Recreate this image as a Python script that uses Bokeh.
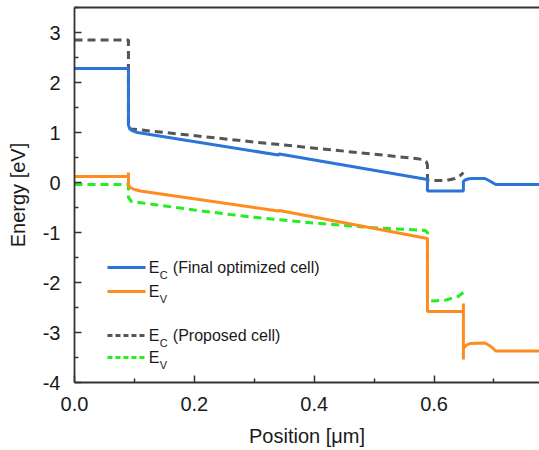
from bokeh.plotting import figure
from bokeh.models import (Range1d, FixedTicker, LinearAxis, Label, PrintfTickFormatter)
from bokeh.embed import file_html
from bokeh.resources import INLINE

# ---------------- data ----------------
ec_final_x = [0.0, 0.09, 0.09, 0.092, 0.096, 0.105, 0.34, 0.342, 0.589, 0.589,
              0.649, 0.649, 0.652, 0.658, 0.665, 0.685, 0.693, 0.703, 0.78]
ec_final_y = [2.28, 2.28, 1.15, 1.08, 1.04, 1.0, 0.55, 0.57, 0.06, -0.17,
              -0.17, 0.02, 0.05, 0.075, 0.08, 0.08, 0.03, -0.04, -0.04]

ev_final_x = [0.0, 0.09, 0.09, 0.09, 0.093, 0.1, 0.11, 0.34, 0.342, 0.589, 0.589,
              0.649, 0.649, 0.649, 0.649, 0.653, 0.66, 0.685, 0.695, 0.703, 0.78]
ev_final_y = [0.12, 0.12, 0.2, -0.05, -0.1, -0.14, -0.17, -0.57, -0.56, -1.12, -2.58,
              -2.58, -2.42, -3.54, -3.32, -3.26, -3.22, -3.21, -3.28, -3.37, -3.37]

ec_prop_x = [0.0, 0.09, 0.09, 0.095, 0.3, 0.57, 0.58, 0.587, 0.589, 0.589,
             0.6, 0.62, 0.635, 0.645, 0.649]
ec_prop_y = [2.85, 2.85, 1.08, 1.07, 0.81, 0.48, 0.46, 0.42, 0.35, 0.05,
             0.04, 0.04, 0.08, 0.15, 0.2]

ev_prop_x = [0.0, 0.09, 0.09, 0.095, 0.2, 0.294, 0.4, 0.494, 0.585, 0.589, 0.589,
             0.6, 0.62, 0.64, 0.649]
ev_prop_y = [-0.04, -0.04, -0.3, -0.38, -0.55, -0.69, -0.81, -0.9, -0.96, -1.0, -2.36,
             -2.37, -2.35, -2.28, -2.2]

x_major = [0.0, 0.2, 0.4, 0.6]
x_minor = [0.1, 0.3, 0.5, 0.7]
y_major = [-4, -3, -2, -1, 0, 1, 2, 3]
y_minor = [-3.5, -2.5, -1.5, -0.5, 0.5, 1.5, 2.5, 3.5]

legend_rows = [
    ("C", "(Final optimized cell)"),
    ("V", ""),
    ("C", "(Proposed cell)"),
    ("V", ""),
]

# ---------------- styles ----------------
BLUE = "#2b74d8"
ORANGE = "#ff8c1e"
GREY = "#555555"
GREEN = "#22ee22"
FONT = "Liberation Sans"
AX = "#333333"

p = figure(width=539, height=450, output_backend="svg", toolbar_location=None,
           x_range=Range1d(0.0, 0.776), y_range=Range1d(-4.0, 3.5),
           min_border_left=74, min_border_right=0, min_border_top=7,
           min_border_bottom=68, x_axis_label="Position [\u03bcm]",
           y_axis_label="Energy [eV]")
p.outline_line_color = None
p.grid.visible = False
p.background_fill_color = "white"
p.border_fill_color = "white"

for ax in (p.xaxis[0], p.yaxis[0]):
    ax.axis_line_color = AX
    ax.axis_line_width = 1.8
    ax.major_tick_line_color = AX
    ax.minor_tick_line_color = AX
    ax.major_tick_line_width = 1.5
    ax.minor_tick_line_width = 1.5
    ax.major_tick_in = 7
    ax.major_tick_out = 0
    ax.minor_tick_in = 4
    ax.minor_tick_out = 0
    ax.major_label_text_font = FONT
    ax.major_label_text_font_size = "20px"
    ax.major_label_text_color = "#1a1a1a"
    ax.axis_label_text_font = FONT
    ax.axis_label_text_font_size = "20px"
    ax.axis_label_text_font_style = "normal"
    ax.axis_label_text_color = "#1a1a1a"

p.xaxis[0].ticker = FixedTicker(ticks=x_major, minor_ticks=x_minor)
p.xaxis[0].formatter = PrintfTickFormatter(format="%.1f")
p.xaxis[0].major_label_standoff = 14
p.xaxis[0].axis_label_standoff = 11
p.yaxis[0].ticker = FixedTicker(ticks=y_major, minor_ticks=y_minor)
p.yaxis[0].formatter = PrintfTickFormatter(format="%d")
p.yaxis[0].major_label_standoff = 14
p.yaxis[0].axis_label_standoff = 11

top = LinearAxis(major_tick_line_color=None, minor_tick_line_color=None,
                 major_label_text_font_size="0px", axis_line_color=AX,
                 axis_line_width=1.8, ticker=FixedTicker(ticks=[]))
p.add_layout(top, "above")

# ---------------- curves ----------------
p.line(ec_prop_x, ec_prop_y, line_color=GREY, line_width=3, line_dash="8 5")
p.line(ev_prop_x, ev_prop_y, line_color=GREEN, line_width=3, line_dash="8 5")
p.line(ec_final_x, ec_final_y, line_color=BLUE, line_width=3)
p.line(ev_final_x, ev_final_y, line_color=ORANGE, line_width=3)

# ---------------- legend (drawn by hand for subscripts) ----------------
leg_y = [-1.70, -2.18, -3.06, -3.50]
leg_x0, leg_x1, leg_tx = 0.055, 0.1185, 0.124
leg_styles = [(BLUE, "solid"), (ORANGE, "solid"), (GREY, "5 3"), (GREEN, "5 3")]
for (sub, rest), yy, (col, dash) in zip(legend_rows, leg_y, leg_styles):
    p.segment(x0=[leg_x0], y0=[yy], x1=[leg_x1], y1=[yy], line_color=col,
              line_width=3, line_dash=dash)
    p.add_layout(Label(x=leg_tx, y=yy, text="E", text_font=FONT,
                       text_font_size="16px", text_baseline="middle",
                       text_color="#1a1a1a"))
    p.add_layout(Label(x=leg_tx, y=yy, x_offset=11, y_offset=-7, text=sub,
                       text_font=FONT, text_font_size="11px",
                       text_baseline="middle", text_color="#1a1a1a"))
    if rest:
        p.add_layout(Label(x=leg_tx, y=yy, x_offset=24, text=rest,
                           text_font=FONT, text_font_size="16px",
                           text_baseline="middle", text_color="#1a1a1a"))

open("out.html", "w").write(file_html(p, INLINE))
